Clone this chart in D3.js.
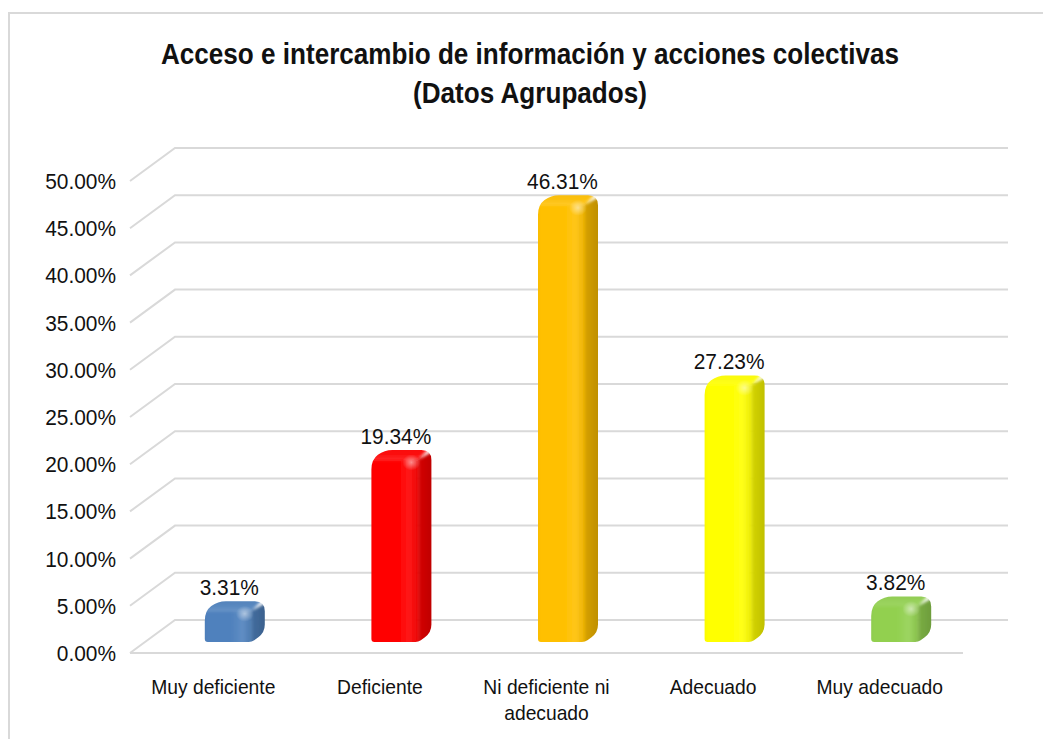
<!DOCTYPE html>
<html>
<head>
<meta charset="utf-8">
<script src="https://cdn.jsdelivr.net/npm/d3@7"></script>
<style>
  html, body { margin: 0; padding: 0; background: #fff; }
  svg { display: block; }
  text { font-family: "Liberation Sans", Arial, sans-serif; fill: #111; }
</style>
</head>
<body>
<svg id="chart" width="1043" height="739"></svg>
<script>
// Categories, values (percent) and colours of the grouped results
const categories = ["Muy deficiente", "Deficiente", "Ni deficiente ni adecuado", "Adecuado", "Muy adecuado"];
const categoryLines = [["Muy deficiente"], ["Deficiente"], ["Ni deficiente ni", "adecuado"], ["Adecuado"], ["Muy adecuado"]];
const values = [3.31, 19.34, 46.31, 27.23, 3.82];
const barColors = ["#4f81bd", "#ff0000", "#ffc000", "#ffff00", "#92d050"];
const yTicks = [0, 5, 10, 15, 20, 25, 30, 35, 40, 45, 50];
const titleLines = ["Acceso e intercambio de información y acciones colectivas", "(Datos Agrupados)"];

const svg = d3.select("#chart");
const defs = svg.append("defs");

// Text placed at (x, y) with a slightly narrowed glyph width
function placeText(sel, xf, yf, sx) {
  return sel.attr("x", 0).attr("y", 0)
    .attr("transform", (d, i) => `translate(${xf(d, i)},${yf(d, i)}) scale(${sx},1)`);
}

// Outer frame
svg.append("rect")
  .attr("x", 9).attr("y", 13).attr("width", 1200).attr("height", 900)
  .attr("fill", "none").attr("stroke", "#d9d9d9").attr("stroke-width", 2);

// Title
placeText(svg.append("g").selectAll("text").data(titleLines).join("text"),
  () => 530, (d, i) => 64 + i * 39, 0.9)
  .attr("text-anchor", "middle")
  .attr("font-size", 29).attr("font-weight", "bold")
  .text(d => d);

// Plot geometry: front plane of the floor and an oblique depth offset
const frontLeft = 130, frontRight = 963;
const depthX = 45, depthY = 33;

const y = d3.scaleLinear().domain([0, 50]).range([653, 181]);
const x = d3.scaleBand().domain(categories).range([frontLeft, frontRight]).padding(0);

// Gridlines: side-wall diagonal plus back-wall horizontal
const grid = svg.append("g").attr("fill", "none").attr("stroke", "#d9d9d9").attr("stroke-width", 2);
grid.selectAll("path").data(yTicks).join("path")
  .attr("d", t => {
    const yy = y(t);
    return `M${frontLeft},${yy}L${frontLeft + depthX},${yy - depthY}L${frontRight + depthX},${yy - depthY}`;
  });
// Front edge of the floor
grid.append("path").attr("d", `M${frontLeft},${y(0)}L${frontRight},${y(0)}`);

// Y axis labels
placeText(svg.append("g").selectAll("text").data(yTicks).join("text"),
  () => 116, t => y(t) + 8, 0.95)
  .attr("text-anchor", "end")
  .attr("font-size", 22)
  .text(t => t.toFixed(2) + "%");

// Category labels
const catG = svg.append("g").selectAll("g").data(categories).join("g");
catG.each(function (c, i) {
  placeText(d3.select(this).selectAll("text").data(categoryLines[i]).join("text"),
    () => x(c) + x.bandwidth() / 2, (d, j) => 694 + j * 26, 0.94)
    .attr("text-anchor", "middle")
    .attr("font-size", 20.5)
    .text(d => d);
});

// Bars as rounded 3D boxes
const barW = 47, barDX = 13, barDY = 9.5;
const barOffX = 15, barOffY = 11;

function roundedPoly(pts, r) {
  const n = pts.length;
  let d = "";
  for (let i = 0; i < n; i++) {
    const p = pts[i], prev = pts[(i - 1 + n) % n], next = pts[(i + 1) % n];
    const rr = p[2] === undefined ? r : p[2];
    const v1 = [prev[0] - p[0], prev[1] - p[1]], v2 = [next[0] - p[0], next[1] - p[1]];
    const l1 = Math.hypot(v1[0], v1[1]), l2 = Math.hypot(v2[0], v2[1]);
    const a = Math.min(rr, l1 / 2), b = Math.min(rr, l2 / 2);
    const s = [p[0] + v1[0] / l1 * a, p[1] + v1[1] / l1 * a];
    const e = [p[0] + v2[0] / l2 * b, p[1] + v2[1] / l2 * b];
    d += (i === 0 ? "M" : "L") + s[0] + "," + s[1] + "Q" + p[0] + "," + p[1] + " " + e[0] + "," + e[1];
  }
  return d + "Z";
}

const blur = defs.append("filter").attr("id", "soft").attr("x", "-20%").attr("y", "-20%").attr("width", "140%").attr("height", "140%");
blur.append("feGaussianBlur").attr("stdDeviation", 1.6);

const barsG = svg.append("g");
const labelsG = svg.append("g");
categories.forEach((c, i) => {
  const base = barColors[i];
  const dark = d3.rgb(base).darker(0.9).formatHex();
  const toDark = d3.interpolateRgb(base, dark);
  const toLight = d3.interpolateRgb(base, "#ffffff");
  const x0 = x(c) + x.bandwidth() / 2 + barOffX - barW / 2;
  const yB = y(0) - barOffY;
  const yT = y(values[i]) - barOffY;

  // gradients
  const gf = defs.append("linearGradient").attr("id", "front" + i).attr("x1", 0).attr("x2", 1).attr("y1", 0).attr("y2", 0);
  [[0, toDark(0.25)], [0.12, base], [0.6, base], [0.82, toLight(0.1)], [1, toDark(0.3)]]
    .forEach(s => gf.append("stop").attr("offset", s[0]).attr("stop-color", s[1]));
  const gs = defs.append("linearGradient").attr("id", "side" + i).attr("x1", 0).attr("x2", 1).attr("y1", 0).attr("y2", 0);
  [[0, toDark(0.6)], [1, dark]].forEach(s => gs.append("stop").attr("offset", s[0]).attr("stop-color", s[1]));
  const gt = defs.append("linearGradient").attr("id", "top" + i).attr("x1", 0).attr("x2", 0).attr("y1", 1).attr("y2", 0);
  [[0, toLight(0.1)], [1, toDark(0.12)]].forEach(s => gt.append("stop").attr("offset", s[0]).attr("stop-color", s[1]));
  const gh = defs.append("radialGradient").attr("id", "hi" + i);
  gh.append("stop").attr("offset", 0).attr("stop-color", "#ffffff").attr("stop-opacity", 0.5);
  gh.append("stop").attr("offset", 1).attr("stop-color", "#ffffff").attr("stop-opacity", 0);

  const outline = [
    [x0, yB, 3],
    [x0, yT, 10],
    [x0 + barDX, yT - barDY, 8],
    [x0 + barW + barDX, yT - barDY, 10],
    [x0 + barW + barDX, yB - barDY, 8],
    [x0 + barW, yB, 3]
  ];
  defs.append("clipPath").attr("id", "clip" + i).append("path").attr("d", roundedPoly(outline, 8));

  const g = barsG.append("g").attr("clip-path", `url(#clip${i})`);
  const inner = g.append("g").attr("filter", "url(#soft)");
  inner.append("rect").attr("x", x0 - 4).attr("y", yT).attr("width", barW + 4).attr("height", yB - yT + 4)
    .attr("fill", `url(#front${i})`);
  inner.append("path")
    .attr("d", `M${x0 - 4},${yT}L${x0 + barDX - 4},${yT - barDY - 4}L${x0 + barW + barDX},${yT - barDY - 4}L${x0 + barW},${yT}Z`)
    .attr("fill", `url(#top${i})`);
  inner.append("path")
    .attr("d", `M${x0 + barW},${yT}L${x0 + barW + barDX + 4},${yT - barDY}L${x0 + barW + barDX + 4},${yB - barDY + 4}L${x0 + barW},${yB + 4}Z`)
    .attr("fill", `url(#side${i})`);
  g.append("ellipse").attr("cx", x0 + barW - 7).attr("cy", yT + 3).attr("rx", 9).attr("ry", 8)
    .attr("fill", `url(#hi${i})`);

  // value label
  placeText(labelsG.append("text").datum(values[i]),
    () => x0 + barW / 2 + 1, () => yT - barDY - 6, 0.95)
    .attr("text-anchor", "middle").attr("font-size", 22)
    .text(d => d.toFixed(2) + "%");
});
</script>
</body>
</html>
